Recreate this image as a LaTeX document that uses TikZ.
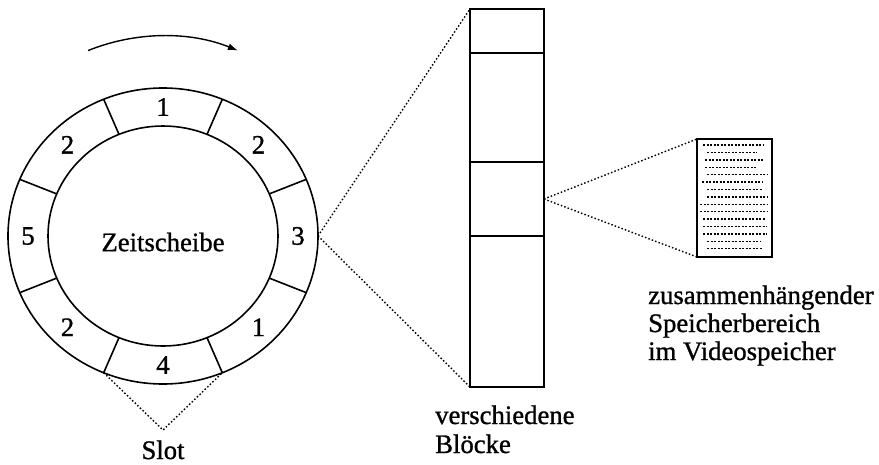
\documentclass[tikz,border=0pt]{standalone}
\usepackage{fontspec}
\setmainfont{Liberation Serif}[FakeBold=1]
\usetikzlibrary{arrows.meta}
\begin{document}
\begin{tikzpicture}[x=1pt,y=1pt,
  line/.style={line width=1.6pt},
  dots/.style={line width=1.4pt, dash pattern=on 1.5pt off 2.1pt},
  dotrow/.style={line width=1.4pt, dash pattern=on 2pt off 1.5pt},
  lbl/.style={font=\fontsize{26.7}{29}\selectfont, inner sep=0pt},
  boxed/.style={draw, line width=1.8pt, inner sep=0pt, outer sep=0pt},
]
\useasboundingbox (0,0) rectangle (879,-464);

% direction of rotation
\draw[line width=1.4pt, -{Latex[length=10pt,width=7pt]}]
  (163,-236) ++(112:200pt) arc[start angle=112, end angle=68, radius=200pt];

% time slice: ring of eight slots, centre (163,-236)
\coordinate (C) at (163,-236);
\draw[line] (C) ellipse [x radius=155pt, y radius=148pt];
\draw[line] (C) ellipse [x radius=115pt, y radius=110pt];
\foreach \a in {22.5,67.5,...,337.5}
  \draw[line] ({163+115*cos(\a)},{-236+110*sin(\a)})
           -- ({163+155*cos(\a)},{-236+148*sin(\a)});
\foreach \a/\t/\n in {90/1/s1, 45/2/s2, 0/3/s3, -45/1/s4,
                      -90/4/s5, -135/2/s6, 180/5/s7, 135/2/s8}
  \node[lbl] (\n) at ({163+135*cos(\a)},{-236+129*sin(\a)}) {\t};
\node[lbl] (zs) at (163,-242) {Zeitscheibe};

% slot marker
\coordinate (sL) at ({163+155*cos(-112.5)},{-236+148*sin(-112.5)});
\coordinate (sR) at ({163+155*cos(-67.5)},{-236+148*sin(-67.5)});
\coordinate (sV) at (163,-430);
\draw[dots] (sL) -- (sV) -- (sR);
\node[lbl, anchor=base] (slot) at (163,-459) {Slot};

% blocks of one slot
\node[boxed, minimum width=74pt, minimum height=378pt] (blk) at (507,-198) {};
\draw[line] (470,-53) -- (544,-53);
\draw[line] (470,-162) -- (544,-162);
\draw[line] (470,-236) -- (544,-236);
\coordinate (ringE) at (318,-236);
\draw[dots] (ringE) -- (blk.north west);
\draw[dots] (ringE) -- (blk.south west);
\node[lbl, anchor=base west] (v1) at (435,-424) {verschiedene};
\node[lbl, anchor=base west] (v2) at (435,-453) {Blöcke};

% contiguous memory area
\node[boxed, minimum width=75pt, minimum height=118pt] (box) at (734.5,-198) {};
\coordinate (mid) at (544,-199);
\draw[dots] (mid) -- (box.north west);
\draw[dots] (mid) -- (box.south west);
\foreach \i/\l/\r in {0/703/763, 1/707/757, 2/705/763, 3/705/757, 4/707/768,
                      5/702/763, 6/707/762, 7/707/768, 8/700/768, 9/700/768,
                      10/703/765, 11/703/767, 12/703/767, 13/707/760, 14/707/762}
  \draw[dotrow] (\l,{-145-7.4*\i}) -- (\r,{-145-7.4*\i});
\node[lbl, anchor=base west] (z1) at (648,-304) {zusammenhängender};
\node[lbl, anchor=base west] (z2) at (648,-332) {Speicherbereich};
\node[lbl, anchor=base west] (z3) at (648,-360) {im Videospeicher};
\end{tikzpicture}
\end{document}
